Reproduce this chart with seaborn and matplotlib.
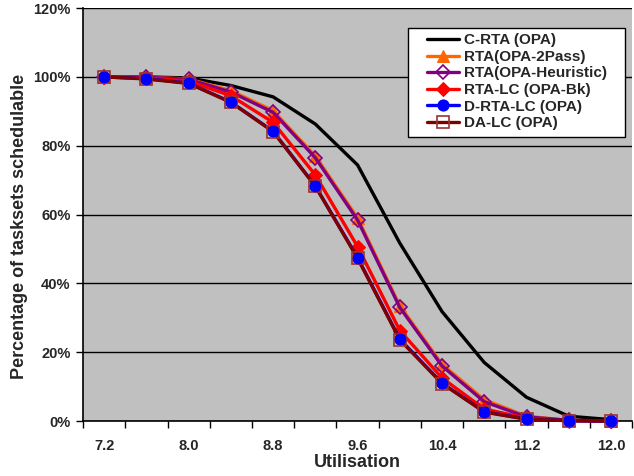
import seaborn as sns
import matplotlib.pyplot as plt
import pandas as pd
from matplotlib.patches import Rectangle
from matplotlib.ticker import FixedLocator, PercentFormatter

# Data (utilisation vs % of tasksets schedulable)
utilisation = [7.2, 7.6, 8.0, 8.4, 8.8, 9.2, 9.6, 10.0, 10.4, 10.8, 11.2, 11.6, 12.0]
c_rta = [100, 100, 99.7, 97.5, 94.2, 86.3, 74.4, 51.7, 31.8, 17.0, 6.9, 1.4, 0.4]
rta_2pass = [100, 99.9, 99.4, 96.0, 90.2, 77.0, 59.0, 33.5, 16.5, 6.2, 1.4, 0.2, 0.0]
rta_heuristic = [100, 99.9, 99.3, 95.6, 89.7, 76.5, 58.4, 33.0, 16.0, 5.6, 1.2, 0.2, 0.0]
rta_lc_bk = [100, 99.7, 98.8, 94.5, 86.8, 71.5, 50.7, 26.3, 12.5, 3.5, 0.8, 0.1, 0.0]
d_rta_lc = [100, 99.5, 98.2, 92.7, 84.2, 68.3, 47.5, 23.8, 11.0, 2.7, 0.6, 0.1, 0.0]
da_lc = [100, 99.4, 98.1, 92.6, 84.1, 68.2, 47.3, 23.6, 10.9, 2.6, 0.5, 0.1, 0.0]

x_labels = [7.2, 8.0, 8.8, 9.6, 10.4, 11.2, 12.0]
y_ticks = [0, 20, 40, 60, 80, 100, 120]

df = pd.DataFrame({'x': utilisation})

sns.set_style('white')
plt.rcParams['font.family'] = ['Liberation Sans', 'DejaVu Sans']
plt.rcParams['font.weight'] = 'bold'

fig = plt.figure(figsize=(6.34, 4.76), dpi=100)
ax = fig.add_axes([0.131, 0.1155, 0.866, 0.8675])
ax.set_facecolor('#C0C0C0')

# series: label, values, color, marker style, zorder
series = [
    ('C-RTA (OPA)', c_rta, 'black', dict(marker=None), 2),
    ('RTA(OPA-2Pass)', rta_2pass, '#FF6600', dict(marker='^', markersize=8, markerfacecolor='#FF6600', markeredgecolor='#FF6600'), 3),
    ('RTA(OPA-Heuristic)', rta_heuristic, '#800080', dict(marker='D', markersize=7, markerfacecolor='none', markeredgecolor='#800080', markeredgewidth=1.2), 4),
    ('RTA-LC (OPA-Bk)', rta_lc_bk, '#FF0000', dict(marker='D', markersize=7, markerfacecolor='#FF0000', markeredgecolor='#FF0000'), 5),
    ('D-RTA-LC (OPA)', d_rta_lc, '#0000FF', dict(marker='o', markersize=8, markerfacecolor='#0000FF', markeredgecolor='#0000FF'), 6),
    ('DA-LC (OPA)', da_lc, '#800000', dict(marker='s', markersize=8.5, markerfacecolor='none', markeredgecolor='#993333', markeredgewidth=1.2), 6.5),
]

for label, vals, color, mk, z in series:
    df[label] = vals
    sns.lineplot(data=df, x='x', y=label, color=color, linewidth=2.4, label=label,
                 ax=ax, zorder=z, clip_on=False, **mk)

# blue circles sit on top of the dark red squares in the original
sns.scatterplot(data=df, x='x', y='D-RTA-LC (OPA)', color='#0000FF', s=60, edgecolor='#0000FF',
                ax=ax, zorder=7, legend=False, clip_on=False)

ax.set_xlim(7.0, 12.2)
ax.set_ylim(0, 120)

ax.yaxis.set_major_locator(FixedLocator(y_ticks))
ax.yaxis.set_major_formatter(PercentFormatter(decimals=0))
ax.set_xticks(x_labels)
ax.set_xticklabels([f'{v:.1f}' for v in x_labels])
ax.xaxis.set_minor_locator(FixedLocator([7.0 + 0.4 * i for i in range(14)]))
ax.tick_params(axis='x', which='major', length=0, pad=13, labelsize=10.5)
ax.tick_params(axis='x', which='minor', length=5, width=1, color='black', direction='out', bottom=True)
ax.tick_params(axis='y', which='major', length=5, width=1, color='black', direction='out', left=True, labelsize=10.5, pad=4)

ax.grid(axis='y', color='black', linewidth=1)
ax.set_axisbelow(True)
for s in ['top', 'right']:
    ax.spines[s].set_visible(False)
for s in ['left', 'bottom']:
    ax.spines[s].set_color('black')
    ax.spines[s].set_linewidth(1.2)

ax.set_xlabel('Utilisation', fontsize=13, fontweight='bold', labelpad=1)
ax.set_ylabel('Percentage of tasksets schedulable', fontsize=13, fontweight='bold')
ax.yaxis.set_label_coords(-0.100, 0.472)

# Excel-style legend box: wide white frame, entries left aligned
ax.add_patch(Rectangle((0.592, 0.688), 0.395, 0.264, transform=ax.transAxes,
                       facecolor='white', edgecolor='black', linewidth=1, zorder=8, clip_on=False))
leg = ax.legend(loc='upper left', bbox_to_anchor=(0.617, 0.952), frameon=False,
                fontsize=11, labelspacing=0.17, handlelength=2.1, handletextpad=0.3,
                borderpad=0.35, borderaxespad=0)
leg.set_zorder(9)

fig.savefig('out.png', dpi=100)
